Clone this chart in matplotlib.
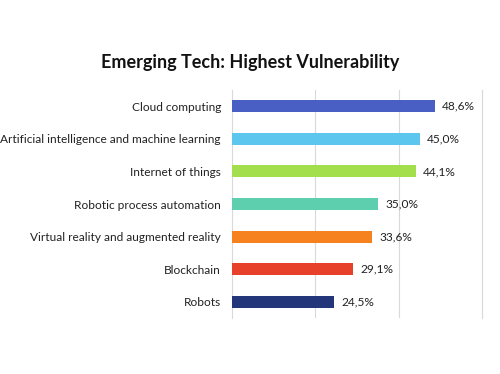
import numpy as np
import matplotlib
matplotlib.use("Agg")
import matplotlib.pyplot as plt

plt.rcParams['font.family'] = ['Lato', 'DejaVu Sans']

categories = ["Cloud computing",
              "Artificial intelligence and machine learning",
              "Internet of things",
              "Robotic process automation",
              "Virtual reality and augmented reality",
              "Blockchain",
              "Robots"]
values = [48.6, 45.0, 44.1, 35.0, 33.6, 29.1, 24.5]
labels = ["48,6%", "45,0%", "44,1%", "35,0%", "33,6%", "29,1%", "24,5%"]
colors = ["#4a5fc3", "#5cc6ee", "#a3df4c", "#5ecfae", "#f5821f", "#e8412b", "#233679"]

fig = plt.figure(figsize=(5, 3.74), dpi=100)
ax = fig.add_axes([0.464, 0.150, 0.5, 0.609])

y = np.arange(len(categories))
ax.barh(y, values, height=0.37, color=colors, zorder=3)
for yi, v, lab in zip(y, values, labels):
    ax.text(v + 1.8, yi, lab, va="center", ha="left", fontsize=8.6, color="#222222")

ax.set_xlim(0, 60)
ax.set_ylim(len(categories) - 0.5, -0.5)
ax.set_xticks([20, 40])
ax.set_xticklabels([])
ax.tick_params(axis="x", length=0)
ax.tick_params(axis="y", length=0, pad=8, labelsize=8.6, labelcolor="#222222")
ax.set_yticks(y)
ax.set_yticklabels(categories)
ax.grid(axis="x", color="#d9d9d9", linewidth=0.8, zorder=0)
for s in ["top", "bottom"]:
    ax.spines[s].set_visible(False)
for s in ["left", "right"]:
    ax.spines[s].set_color("#d9d9d9")
    ax.spines[s].set_linewidth(0.8)

fig.text(0.5, 0.832, "Emerging Tech: Highest Vulnerability", ha="center", va="center",
         fontsize=13, fontweight="bold", color="#111111")

fig.savefig("out.png", dpi=100)
